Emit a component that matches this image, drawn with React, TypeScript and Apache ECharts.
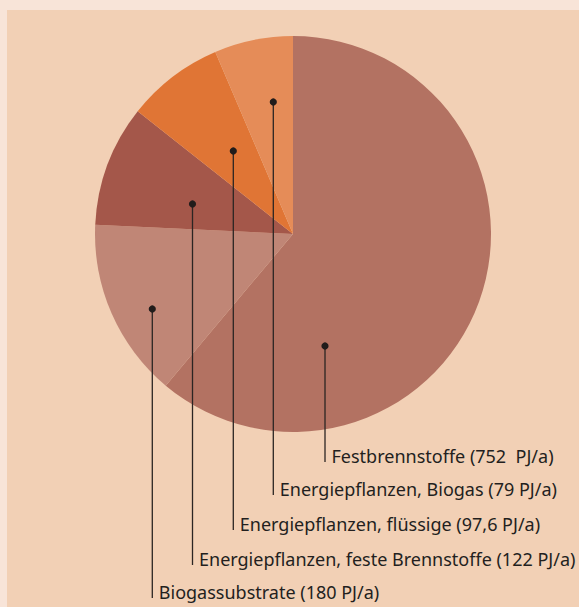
import React, { useEffect, useRef } from "react";
import * as echarts from "echarts";

// ---- data ----
const categories = [
  "Festbrennstoffe",
  "Biogassubstrate",
  "Energiepflanzen, feste Brennstoffe",
  "Energiepflanzen, flüssige",
  "Energiepflanzen, Biogas",
];
const values = [752, 180, 122, 97.6, 79];
const valueLabels = ["752  PJ/a", "180 PJ/a", "122 PJ/a", "97,6 PJ/a", "79 PJ/a"];

// ---- styles / layout ----
const colors = ["#b37262", "#c08676", "#a4574a", "#e07535", "#e58c58"];
const OFFSET_X = 7;
const OFFSET_Y = 10;
// annotation layout in page pixels: dot position and text baseline
const dotX = [325, 152.3, 192.5, 233.3, 273.3];
const dotY = [346, 309, 204, 151, 102];
const baseY = [462, 598, 565, 530, 495];
const FONT = 18;

export default function App() {
  const ref = useRef<HTMLDivElement>(null);
  useEffect(() => {
    document.body.style.margin = "0";
    const chart = echarts.init(ref.current!, null, { renderer: "svg" });
    const graphics: any[] = [];
    categories.forEach((c, i) => {
      const x = dotX[i] - OFFSET_X;
      const y = dotY[i] - OFFSET_Y;
      const b = baseY[i] - OFFSET_Y;
      graphics.push({
        type: "line",
        z: 100,
        shape: { x1: x, y1: y, x2: x, y2: b },
        style: { stroke: "#2b2523", lineWidth: 1.3 },
        silent: true,
      });
      graphics.push({
        type: "circle",
        z: 101,
        shape: { cx: x, cy: y, r: 3.6 },
        style: { fill: "#211c1b" },
        silent: true,
      });
      graphics.push({
        type: "text",
        z: 100,
        x: x + 6.5,
        y: b - FONT * 0.36,
        style: {
          text: `${c} (${valueLabels[i]})`,
          fill: "#231f1e",
          font: `${FONT}px 'Noto Sans', sans-serif`,
          textAlign: "left",
          textVerticalAlign: "middle",
          verticalAlign: "middle",
        },
        silent: true,
      });
    });
    chart.setOption({
      animation: false,
      backgroundColor: "#f2d0b5",
      series: [
        {
          type: "pie",
          z: 1,
          center: [293 - OFFSET_X, 234 - OFFSET_Y],
          radius: [0, 198],
          startAngle: 90,
          clockwise: true,
          silent: true,
          label: { show: false },
          labelLine: { show: false },
          itemStyle: { borderWidth: 0 },
          emphasis: { disabled: true },
          data: categories.map((c, i) => ({
            name: c,
            value: values[i],
            itemStyle: { color: colors[i] },
          })),
        },
      ],
      graphic: graphics,
    });
    return () => chart.dispose();
  }, []);
  return (
    <div
      style={{
        width: 579,
        height: 607,
        background: "#f8e4d8",
        position: "relative",
        overflow: "hidden",
      }}
    >
      <div
        ref={ref}
        style={{
          position: "absolute",
          left: OFFSET_X,
          top: OFFSET_Y,
          width: 579 - OFFSET_X,
          height: 607 - OFFSET_Y,
        }}
      />
    </div>
  );
}
